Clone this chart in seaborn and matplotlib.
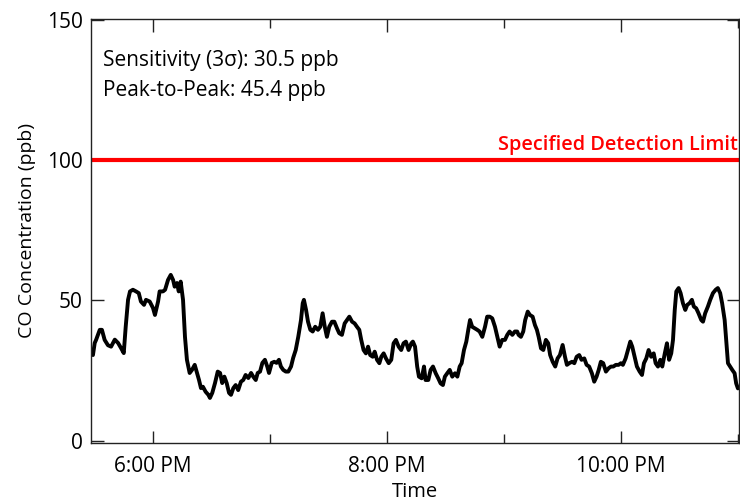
import matplotlib
matplotlib.use("Agg")
import matplotlib.pyplot as plt
import seaborn as sns
import pandas as pd
from matplotlib.ticker import FixedLocator, FixedFormatter

# ---- data (minutes after 5:00 PM, CO concentration in ppb) ----
minutes = [29.2, 30.1, 30.8, 32.7, 33.8, 35.2, 36.9, 38.5, 40.4, 42.1, 43.6, 45.0, 46.0, 47.2, 48.2,
           49.7, 51.3, 52.7, 53.8, 55.4, 56.4, 58.3, 60.0, 61.0, 62.6, 63.4, 65.1, 66.2, 67.7, 69.1,
           70.3, 71.1, 72.3, 73.2, 74.2, 75.4, 76.4, 77.4, 78.8, 80.0, 81.4, 82.6, 83.6, 84.6, 85.6,
           87.0, 88.4, 89.2, 90.4, 91.8, 93.2, 94.4, 95.5, 96.6, 97.8, 99.0, 100.0, 101.2, 102.4, 103.7,
           105.1, 106.3, 107.5, 108.9, 110.3, 111.4, 112.7, 113.7, 114.9, 116.1, 117.4, 118.6, 119.5,
           120.9, 122.2, 123.4, 124.6, 125.6, 126.8, 128.1, 129.4, 130.8, 131.9, 133.2, 134.5, 135.9,
           136.8, 137.4, 138.5, 139.5, 140.7, 141.9, 143.2, 144.6, 145.8, 147.0, 148.1, 149.2, 150.4,
           151.8, 153.0, 154.4, 155.5, 156.9, 158.3, 159.5, 160.7, 162.1, 163.4, 164.6, 165.8, 166.8,
           168.0, 169.2, 170.3, 171.4, 172.7, 173.7, 174.9, 176.1, 177.1, 178.3, 179.5, 180.9, 182.2,
           183.4, 184.6, 186.0, 187.3, 188.5, 189.7, 191.1, 192.5, 193.3, 194.4, 195.5, 196.4, 197.8,
           199.0, 199.8, 201.2, 202.4, 203.6, 205.0, 206.3, 207.5, 208.7, 209.7, 210.9, 212.2, 213.5,
           214.9, 216.1, 217.3, 218.3, 219.5, 220.7, 221.7, 222.6, 223.7, 225.1, 226.3, 227.5, 228.9,
           230.3, 231.4, 232.7, 234.0, 235.4, 236.6, 237.8, 239.1, 240.5, 241.7, 242.9, 244.3, 245.6,
           246.8, 247.5, 248.7, 249.9, 250.9, 252.2, 253.3, 254.7, 255.9, 256.9, 257.8, 259.0, 260.2,
           261.5, 262.7, 263.7, 265.0, 266.3, 267.5, 268.7, 270.1, 271.3, 272.3, 273.5, 274.9, 276.1,
           277.3, 278.6, 279.8, 281.2, 282.4, 283.7, 285.1, 286.3, 287.5, 288.6, 289.7, 290.9, 292.3,
           293.7, 294.9, 296.1, 297.4, 298.8, 300.0, 301.0, 302.4, 303.6, 304.8, 305.8, 307.0, 308.2,
           309.6, 310.8, 311.8, 313.0, 314.2, 315.5, 316.8, 317.8, 319.0, 320.2, 321.2, 322.5, 323.6,
           324.7, 325.8, 326.7, 327.6, 328.4, 329.6, 330.6, 331.8, 333.0, 334.0, 335.2, 336.4, 337.4,
           338.6, 339.8, 341.2, 342.1, 343.2, 344.6, 345.8, 347.2, 348.6, 349.7, 350.9, 351.9, 353.2,
           354.0, 354.9, 356.0, 357.1, 358.3, 359.1, 360.0]
co_ppb = [30.5, 34.8, 35.9, 39.5, 39.5, 35.9, 34.0, 33.5, 36.0, 34.8, 33.0, 31.2, 40.6, 50.2, 53.2,
          53.8, 53.2, 52.6, 49.6, 48.4, 50.2, 49.6, 47.3, 44.8, 49.6, 53.2, 53.2, 53.8, 57.3, 59.1,
          57.3, 54.9, 56.2, 53.2, 56.7, 50.2, 37.0, 28.8, 24.1, 25.2, 27.0, 24.1, 21.6, 18.7, 19.2,
          17.4, 16.3, 15.2, 17.0, 20.5, 24.6, 24.1, 20.5, 22.8, 20.5, 17.0, 16.3, 18.7, 19.8, 18.0,
          21.0, 21.6, 23.4, 22.3, 24.1, 22.8, 21.6, 24.1, 24.6, 27.7, 28.8, 26.4, 24.1,
          27.7, 28.1, 27.7, 28.8, 26.4, 25.2, 24.6, 24.6, 26.4, 29.5, 32.3, 37.0, 43.0,
          49.0, 50.2, 46.6, 42.4, 39.5, 38.9, 40.6, 39.5, 40.6, 45.4, 40.6, 37.0, 40.6,
          42.4, 42.4, 40.0, 38.3, 37.7, 41.8, 43.0, 44.2, 42.4, 41.8, 40.6, 39.5, 35.9,
          32.3, 31.1, 33.5, 30.5, 29.9, 31.7, 28.8, 27.6, 29.9, 31.1, 29.3, 27.6, 28.8,
          34.7, 35.9, 33.5, 32.3, 34.7, 35.3, 32.3, 34.7, 35.3, 33.5, 26.4, 22.8, 22.2,
          26.4, 21.6, 21.6, 25.2, 26.4, 24.0, 22.2, 20.4, 19.8, 22.8, 24.0, 25.2, 22.8,
          24.0, 22.8, 26.4, 27.6, 32.3, 35.3, 39.5, 43.0, 40.6, 40.0, 39.5, 38.9, 37.0,
          40.6, 44.2, 44.2, 43.6, 40.6, 37.0, 33.5, 35.9, 35.9, 37.7, 38.9, 37.7, 38.9,
          38.9, 37.7, 37.0, 38.9, 43.0, 46.0, 44.8, 44.2, 41.2, 39.5, 37.0, 32.9, 32.3,
          35.9, 34.7, 30.5, 28.1, 26.4, 29.3, 30.5, 34.1, 29.9, 27.0, 27.6, 28.1, 27.6,
          29.9, 30.5, 28.8, 29.3, 27.0, 26.4, 24.0, 21.0, 22.8, 25.2, 28.1, 27.6, 24.6,
          25.8, 26.4, 26.4, 27.0, 27.0, 27.6, 27.0, 29.3, 32.3, 35.3, 33.5, 29.9, 26.4,
          24.6, 23.4, 27.6, 29.3, 32.3, 29.9, 31.1, 27.6, 26.4, 28.8, 26.4, 31.1, 34.7,
          28.8, 31.1, 35.9, 46.6, 53.2, 54.4, 52.6, 49.0, 46.6, 48.4, 49.0, 50.2, 47.8,
          47.2, 45.4, 43.0, 42.4, 45.4, 47.8, 50.2, 52.6, 53.8, 54.4, 52.6, 49.0, 43.0,
          35.9, 27.6, 26.4, 25.2, 24.0, 20.4, 18.6]

detection_limit = 100
major_hours = [18, 20, 22]
major_labels = ["6:00 PM", "8:00 PM", "10:00 PM"]
minor_hours = [19, 21, 23]
y_ticks = [0, 50, 100, 150]
note_lines = ["Sensitivity (3\u03c3): 30.5 ppb", "Peak-to-Peak: 45.4 ppb"]
limit_label = "Specified Detection Limit"

df = pd.DataFrame({"hour": [17 + m / 60 for m in minutes], "co": co_ppb})

sns.set_theme(style="ticks")
plt.rcParams["font.family"] = ["Open Sans", "DejaVu Sans"]
plt.rcParams["text.color"] = "black"
plt.rcParams["axes.labelcolor"] = "black"

fig = plt.figure(figsize=(7.4, 5.03), dpi=100)
ax = fig.add_axes([91 / 740, 1 - 442.5 / 503, (738.5 - 91) / 740, (442.5 - 19) / 503])

sns.lineplot(data=df, x="hour", y="co", ax=ax, color="black", linewidth=2.8, sort=False)
ax.axhline(detection_limit, color="#ff0000", linewidth=3.0, zorder=1)

ax.set_xlim(17 + 28.2 / 60, 17 + 360.3 / 60)
ax.set_ylim(-0.7, 150.4)

ax.xaxis.set_major_locator(FixedLocator(major_hours))
ax.xaxis.set_major_formatter(FixedFormatter(major_labels))
ax.xaxis.set_minor_locator(FixedLocator(minor_hours))
ax.set_yticks(y_ticks)

for s in ax.spines.values():
    s.set_visible(True)
    s.set_color("#222222")
    s.set_linewidth(1.0)

ax.tick_params(axis="both", which="major", direction="in", length=9, width=1.0,
               color="#222222", labelsize=15, top=True, right=True, labelcolor="black")
ax.tick_params(axis="x", which="minor", direction="in", length=6.5, width=1.0,
               color="#222222", top=True, bottom=True)
ax.tick_params(axis="x", which="major", pad=10)
ax.tick_params(axis="y", which="major", pad=6)

ax.set_xlabel("Time", fontsize=14.5, labelpad=3)
ax.set_ylabel("CO Concentration (ppb)", fontsize=14, labelpad=8)

ax.text(0.018, 0.890, note_lines[0], transform=ax.transAxes, fontsize=15, va="baseline", ha="left")
ax.text(0.018, 0.819, note_lines[1], transform=ax.transAxes, fontsize=15, va="baseline", ha="left")
ax.text(0.999, 103.7, limit_label, transform=ax.get_yaxis_transform(),
        fontsize=14.3, color="#ff0000", ha="right", va="baseline", fontweight="semibold")

fig.savefig("out.png", dpi=100)
